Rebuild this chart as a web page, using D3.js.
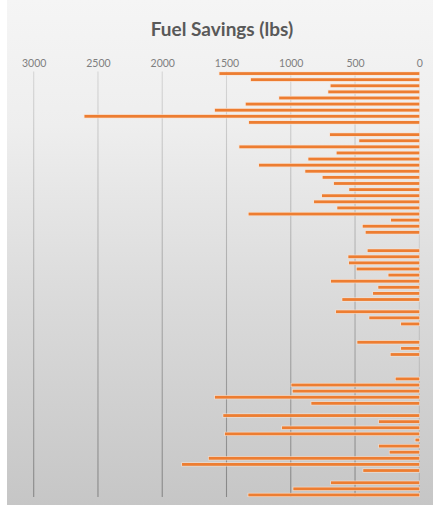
<!DOCTYPE html>
<html>
<head>
<meta charset="utf-8">
<script src="https://cdn.jsdelivr.net/npm/d3@7"></script>
<style>
  html, body { margin: 0; padding: 0; background: #ffffff; }
  svg { display: block; }
</style>
</head>
<body>
<svg id="chart" width="433" height="509"></svg>
<script>
// Fuel savings per flight (lbs); 0 marks a flight with no savings recorded
const flights = d3.range(1, 71).map(String);
const savings = [
  1555, 1310, 690, 708, 1090, 1350, 1590, 2605, 1325, 0,
  695, 467, 1400, 643, 863, 1247, 887, 752, 664, 545,
  757, 819, 638, 1328, 220, 440, 417, 0, 0, 402,
  552, 547, 487, 240, 687, 319, 360, 599, 0, 648,
  389, 142, 0, 0, 482, 142, 223, 0, 0, 0,
  184, 995, 985, 1590, 840, 0, 1525, 314, 1068, 1512,
  30, 314, 231, 1638, 1846, 436, 0, 687, 980, 1330
];
const tickValues = [3000, 2500, 2000, 1500, 1000, 500, 0];
const chartTitle = "Fuel Savings (lbs)";

const svg = d3.select("#chart");
const W = 433;

// background gradient panel
const defs = svg.append("defs");
const bg = defs.append("linearGradient").attr("id", "bgGrad")
  .attr("x1", 0).attr("y1", 0).attr("x2", 0).attr("y2", 1);
[[0, "#f5f5f5"], [0.25, "#eeeeee"], [0.6, "#dadada"], [1, "#c6c6c6"]]
  .forEach(([o, c]) => bg.append("stop").attr("offset", o).attr("stop-color", c));

const gridGrad = defs.append("linearGradient").attr("id", "gridGrad")
  .attr("gradientUnits", "userSpaceOnUse")
  .attr("x1", 0).attr("y1", 71).attr("x2", 0).attr("y2", 497);
[[0, "#d6d6d6"], [0.5, "#acacac"], [1, "#878787"]]
  .forEach(([o, c]) => gridGrad.append("stop").attr("offset", o).attr("stop-color", c));

svg.append("rect")
  .attr("x", 7).attr("y", 0).attr("width", W - 7).attr("height", 505)
  .attr("fill", "url(#bgGrad)");

// scales: value axis runs right-to-left from 0
const x = d3.scaleLinear().domain([0, 3000]).range([419.3, 33.7]);
const y = d3.scaleBand().domain(flights).range([70.5, 498]).padding(0);

// vertical gridlines
svg.append("g").selectAll("line")
  .data(tickValues)
  .join("line")
  .attr("x1", d => x(d)).attr("x2", d => x(d))
  .attr("y1", 71.5).attr("y2", 497)
  .attr("stroke", "url(#gridGrad)")
  .attr("stroke-width", d => d === 0 ? 0.8 : 1.1)
  .attr("stroke-opacity", d => d === 0 ? 0.6 : 1);

// tick labels along the top
const axis = svg.append("g")
  .attr("transform", "translate(0,66.5)")
  .call(d3.axisTop(x).tickValues(tickValues).tickSize(0).tickPadding(0).tickFormat(d3.format("d")));
axis.select(".domain").remove();
axis.selectAll("text")
  .attr("font-family", "Lato, 'Open Sans', sans-serif")
  .attr("font-size", 10.5)
  .attr("fill", "#7f7f7f");

// bars
const barH = 2.8;
svg.append("g").selectAll("rect")
  .data(flights.map((f, i) => ({ f, v: savings[i] })).filter(d => d.v > 0))
  .join("rect")
  .attr("x", d => x(d.v))
  .attr("y", d => y(d.f) + y.bandwidth() / 2 - barH / 2)
  .attr("width", d => x(0) - x(d.v))
  .attr("height", barH)
  .attr("fill", "#ed7d31")
  .attr("stroke", "#fbe2d0")
  .attr("stroke-opacity", 0.8)
  .attr("stroke-width", 1.4)
  .style("paint-order", "stroke");

// title
svg.append("text")
  .attr("x", 222).attr("y", 35.5)
  .attr("text-anchor", "middle")
  .attr("font-family", "Lato, 'Open Sans', sans-serif")
  .attr("font-weight", "bold")
  .attr("font-size", 19)
  .attr("fill", "#595959")
  .text(chartTitle);
</script>
</body>
</html>
